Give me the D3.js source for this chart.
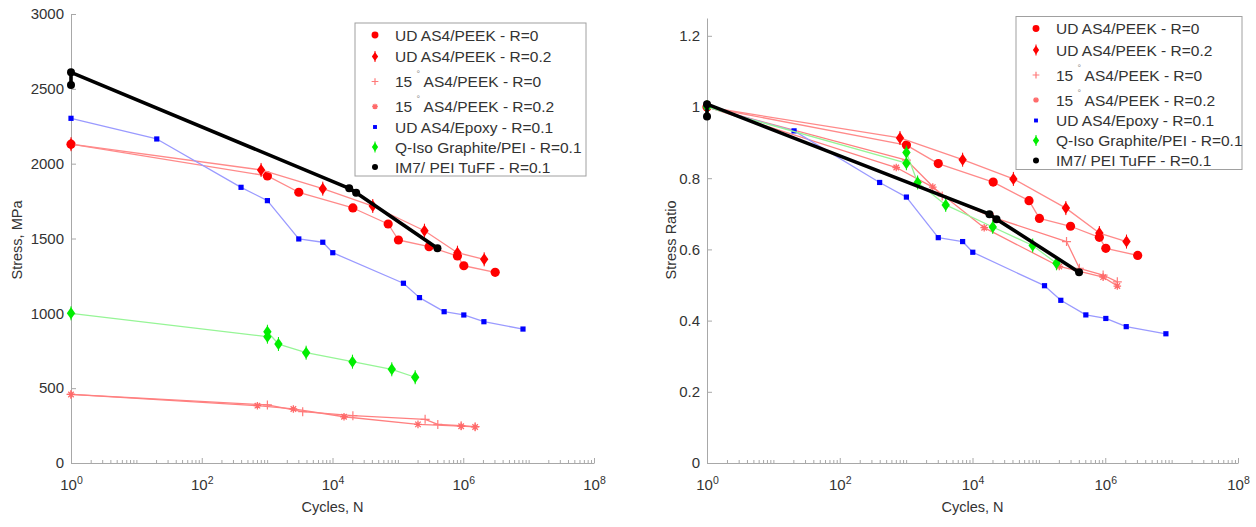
<!DOCTYPE html>
<html><head><meta charset="utf-8">
<script src="https://cdn.jsdelivr.net/npm/d3@7"></script>
<style>
body{margin:0;background:#fff;}
text{font-family:"Liberation Sans",Arial,sans-serif;}
</style>
</head><body>
<svg id="c" width="1256" height="527"></svg>
<script>
// ---------------- DATA ----------------
const seriesNames = [
  "UD AS4/PEEK - R=0",
  "UD AS4/PEEK - R=0.2",
  "15° AS4/PEEK - R=0",
  "15° AS4/PEEK - R=0.2",
  "UD AS4/Epoxy - R=0.1",
  "Q-Iso Graphite/PEI - R=0.1",
  "IM7/ PEI TuFF - R=0.1"
];
// UD AS4/PEEK R=0
const udPeekR0_N     = [1, 1010, 3050, 20500, 71000, 102000, 300000, 815000, 1020000, 3080000];
const udPeekR0_S     = [2130, 1918, 1809, 1704, 1597, 1490, 1445, 1383, 1318, 1274];
const udPeekR0_Ratio = [1.0, 0.893, 0.841, 0.789, 0.737, 0.687, 0.665, 0.634, 0.603, 0.583];
// UD AS4/PEEK R=0.2
const udPeekR02_N     = [1, 808, 7100, 41300, 255000, 815000, 2090000];
const udPeekR02_S     = [2130, 1958, 1833, 1717, 1552, 1405, 1361];
const udPeekR02_Ratio = [1.0, 0.913, 0.852, 0.798, 0.716, 0.646, 0.622];
// 15 deg AS4/PEEK R=0
const deg15R0_N     = [1, 1010, 3500, 20500, 261000, 408000, 929000, 1520000];
const deg15R0_S     = [458, 388, 343, 316, 292, 258, 249, 243];
const deg15R0_Ratio = [1.0, 0.851, 0.75, 0.69, 0.622, 0.547, 0.528, 0.509];
// 15 deg AS4/PEEK R=0.2
const deg15R02_N     = [1, 710, 2520, 15000, 203000, 929000, 1520000];
const deg15R02_S     = [458, 383, 361, 309, 258, 246, 241];
const deg15R02_Ratio = [1.0, 0.83, 0.775, 0.661, 0.552, 0.522, 0.497];
// UD AS4/Epoxy R=0.1
const epoxy_N     = [1, 20.5, 399, 1010, 3050, 7100, 10100, 121600, 214000, 510000, 1020000, 2070000, 8200000];
const epoxy_S     = [2303, 2165, 1842, 1753, 1497, 1475, 1405, 1201, 1105, 1011, 989, 944, 895];
const epoxy_Ratio = [1.0, 0.933, 0.788, 0.747, 0.633, 0.622, 0.592, 0.498, 0.457, 0.416, 0.406, 0.383, 0.363];
// Q-Iso Graphite/PEI R=0.1
const qiso_N     = [1, 1010, 1010, 1490, 3950, 20200, 80700, 184000];
const qiso_S     = [1000, 844, 877, 795, 737, 677, 626, 573];
const qiso_Ratio = [1.0, 0.842, 0.872, 0.788, 0.725, 0.663, 0.611, 0.561];
// IM7/PEI TuFF R=0.1
const tuff_N     = [1, 1, 18000, 23000, 403000];
const tuff_S     = [2525, 2610, 1835, 1806, 1435];
const tuff_Ratio = [0.973, 1.008, 0.699, 0.685, 0.536];

const xTickVals = [1, 1e2, 1e4, 1e6, 1e8];
const xTickExps = ["0", "2", "4", "6", "8"];
const stressTicks = [0, 500, 1000, 1500, 2000, 2500, 3000];
const stressTickLabels = ["0", "500", "1000", "1500", "2000", "2500", "3000"];
const ratioTicks = [0, 0.2, 0.4, 0.6, 0.8, 1, 1.2];
const ratioTickLabels = ["0", "0.2", "0.4", "0.6", "0.8", "1", "1.2"];

// ---------------- STYLES ----------------
const styles = [
  {marker:"circle",  mcolor:"#ff0000", lcolor:"#ff8a8a", lw:1.3},
  {marker:"diamond", mcolor:"#ff0000", lcolor:"#ff8a8a", lw:1.3},
  {marker:"plus",    mcolor:"#ff7a7a", lcolor:"#ff8080", lw:1.3},
  {marker:"star",    mcolor:"#ff6a6a", lcolor:"#ff8080", lw:1.3},
  {marker:"square",  mcolor:"#0000ff", lcolor:"#9a9aff", lw:1.3},
  {marker:"gdiamond",mcolor:"#00ee00", lcolor:"#96f596", lw:1.3},
  {marker:"dot",     mcolor:"#000000", lcolor:"#000000", lw:3.6}
];
const leftData = [
  [udPeekR0_N, udPeekR0_S], [udPeekR02_N, udPeekR02_S], [deg15R0_N, deg15R0_S],
  [deg15R02_N, deg15R02_S], [epoxy_N, epoxy_S], [qiso_N, qiso_S], [tuff_N, tuff_S]
];
const rightData = [
  [udPeekR0_N, udPeekR0_Ratio], [udPeekR02_N, udPeekR02_Ratio], [deg15R0_N, deg15R0_Ratio],
  [deg15R02_N, deg15R02_Ratio], [epoxy_N, epoxy_Ratio], [qiso_N, qiso_Ratio], [tuff_N, tuff_Ratio]
];

const minorVals = [];
for (let k = 0; k < 8; k++) for (let m = 2; m <= 10; m++) {
  const v = m * Math.pow(10, k);
  if (!(m === 10 && k % 2 === 1)) { if (m < 10 || (k % 2 === 0)) minorVals.push(v); }
}

const svg = d3.select("#c");
const AX = "#a8a8a8", TXT = "#333";

function drawMarker(g, type, color, cx, cy, scale) {
  const s = scale || 1;
  if (type === "circle") {
    g.append("circle").attr("cx", cx).attr("cy", cy).attr("r", 4.6 * s).attr("fill", color);
  } else if (type === "dot") {
    g.append("circle").attr("cx", cx).attr("cy", cy).attr("r", 4 * s).attr("fill", color);
  } else if (type === "diamond" || type === "gdiamond") {
    const w = 4.2 * s, h = 6 * s;
    g.append("path").attr("d", `M${cx},${cy - h}L${cx + w},${cy}L${cx},${cy + h}L${cx - w},${cy}Z`).attr("fill", color);
    g.append("path").attr("d", `M${cx},${cy - h - 1}V${cy + h + 1}`).attr("stroke", color).attr("stroke-width", 1);
  } else if (type === "square") {
    const a = 2.6 * s;
    g.append("rect").attr("x", cx - a).attr("y", cy - a).attr("width", 2 * a).attr("height", 2 * a).attr("fill", color);
  } else if (type === "plus") {
    const a = 4.5 * s;
    g.append("path").attr("d", `M${cx - a},${cy}H${cx + a}M${cx},${cy - a}V${cy + a}`).attr("stroke", color).attr("stroke-width", 1.2).attr("fill", "none");
  } else if (type === "star") {
    const a = 3.8 * s, b = a * 0.72;
    g.append("path").attr("d", `M${cx - a},${cy}H${cx + a}M${cx},${cy - a}V${cy + a}M${cx - b},${cy - b}L${cx + b},${cy + b}M${cx - b},${cy + b}L${cx + b},${cy - b}`)
      .attr("stroke", color).attr("stroke-width", 1.3).attr("fill", "none");
  }
}

function drawPanel(cfg) {
  const x = d3.scaleLog().domain([1, 1e8]).range([cfg.x0, cfg.x1]);
  const y = d3.scaleLinear().domain(cfg.yDomain).range([cfg.y0, cfg.y1]);
  const g = svg.append("g");

  // minor x ticks
  const mg = g.append("g").attr("transform", `translate(0,${cfg.y0})`)
    .call(d3.axisBottom(x).tickValues(minorVals).tickSize(-3).tickSizeOuter(0).tickFormat(""));
  mg.select(".domain").remove();
  mg.selectAll("line").attr("stroke", AX);

  // major x axis
  const xg = g.append("g").attr("transform", `translate(0,${cfg.y0})`)
    .call(d3.axisBottom(x).tickValues(xTickVals).tickSize(-5).tickSizeOuter(0).tickPadding(16).tickFormat(""));
  xg.select(".domain").attr("stroke", AX);
  xg.selectAll("line").attr("stroke", AX);
  xg.selectAll("text").each(function(d, i) {
    const t = d3.select(this);
    t.attr("fill", TXT).attr("font-size", 15).attr("font-family", "Liberation Sans, Arial, sans-serif");
    t.text("10");
    t.append("tspan").attr("dy", "-0.5em").attr("font-size", 10.5).text(xTickExps[i]);
  });

  // y axis
  const yg = g.append("g").attr("transform", `translate(${cfg.x0},0)`)
    .call(d3.axisLeft(y).tickValues(cfg.yTicks).tickSize(-5).tickSizeOuter(0).tickPadding(7)
      .tickFormat((d, i) => cfg.yLabels[i]));
  yg.select(".domain").attr("stroke", AX);
  yg.selectAll("line").attr("stroke", AX);
  yg.selectAll("text").attr("fill", TXT).attr("font-size", 15).attr("font-family", "Liberation Sans, Arial, sans-serif");

  // titles
  g.append("text").attr("x", (cfg.x0 + cfg.x1) / 2).attr("y", 512).attr("text-anchor", "middle")
    .attr("font-size", 14.5).attr("fill", TXT).text("Cycles, N");
  g.append("text").attr("transform", `translate(${cfg.yTitleX},240) rotate(-90)`).attr("text-anchor", "middle")
    .attr("font-size", 14.5).attr("fill", TXT).text(cfg.yTitle);

  // series
  const line = d3.line().x(d => x(d[0])).y(d => y(d[1]));
  cfg.data.forEach((sd, si) => {
    const st = styles[si];
    const pts = sd[0].map((n, j) => [n, sd[1][j]]);
    g.append("path").attr("d", line(pts)).attr("fill", "none").attr("stroke", st.lcolor)
      .attr("stroke-width", st.lw).attr("stroke-linejoin", "round");
    const mgG = g.append("g");
    pts.forEach(p => drawMarker(mgG, st.marker, st.mcolor, x(p[0]), y(p[1])));
  });

  // legend
  const lg = g.append("g").attr("transform", `translate(${cfg.lx},${cfg.ly})`);
  lg.append("rect").attr("x", 0).attr("y", 0).attr("width", cfg.lw).attr("height", 153)
    .attr("fill", "#fff").attr("stroke", "#a0a0a0").attr("stroke-width", 1);
  const rowY = [12, 33.5, 58.5, 83.5, 104, 124, 144];
  seriesNames.forEach((name, i) => {
    const st = styles[i];
    drawMarker(lg, st.marker, st.mcolor, 20, rowY[i], 0.75);
    const t = lg.append("text").attr("x", 40).attr("y", rowY[i] + 5.5).attr("font-size", 15.5).attr("fill", TXT);
    if (name.indexOf("°") >= 0) {
      const parts = name.split("°");
      t.append("tspan").text(parts[0] + " ");
      t.append("tspan").attr("dy", -10).attr("font-size", 9).attr("fill", "#888").text("°");
      t.append("tspan").attr("dy", 10).text(parts[1]);
    } else {
      t.text(name);
    }
  });
}

drawPanel({
  x0: 71, x1: 594, y0: 463, y1: 14, yDomain: [0, 3000],
  yTicks: stressTicks, yLabels: stressTickLabels, yTitle: "Stress, MPa", yTitleX: 22,
  data: leftData, lx: 355, ly: 23, lw: 231
});
drawPanel({
  x0: 707, x1: 1238, y0: 463, y1: 18, yDomain: [0, 1.25],
  yTicks: ratioTicks, yLabels: ratioTickLabels, yTitle: "Stress Ratio", yTitleX: 676,
  data: rightData, lx: 1016, ly: 16.5, lw: 226
});
</script>
</body></html>
